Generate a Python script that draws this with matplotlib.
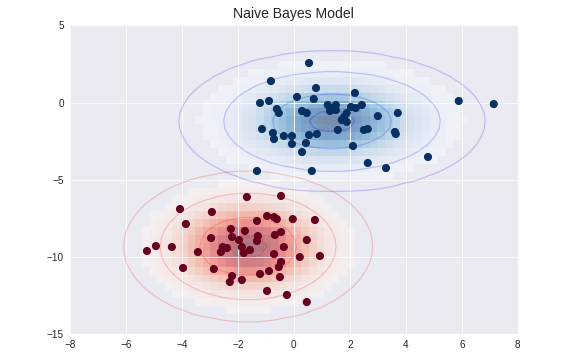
import matplotlib
matplotlib.use("Agg")

import numpy as np
import matplotlib.pyplot as plt

# -----------------------------
# Points
# -----------------------------
# class 0 (red cluster)
red_x = [-4.07, -2.93, -3.86, -2.25, -2.21, -2.96, -1.96, -2.54, -2.39, -2.61,
         -1.86, -1.79, -1.57, -5.25, -4.93, -4.36, -3.43, -3.96, -2.86, -2.21,
         -2.29, -1.86, -1.68, -0.46, -0.96, -0.71, -0.61, -1.32, -0.04, 0.75,
         -1.75, -1.29, -1.32, -0.68, -0.46, -0.36, -0.71, 0.46, 0.21, 0.93,
         -0.46, -0.54, -0.89, -1.21, -0.50, -0.96, -0.25, 0.46]
red_y = [-6.91, -7.10, -7.88, -8.20, -8.72, -8.79, -8.92, -9.37, -9.44, -9.70,
         -9.37, -9.76, -9.57, -9.63, -9.31, -9.37, -9.70, -10.73, -10.80, -11.25,
         -11.64, -11.51, -6.13, -6.06, -7.36, -7.43, -7.56, -7.68, -7.56, -7.62,
         -8.33, -8.66, -8.98, -8.59, -8.40, -9.37, -9.83, -8.92, -10.02, -9.95,
         -10.34, -10.67, -10.93, -11.12, -11.32, -12.22, -12.48, -12.94]

# class 1 (blue cluster)
blue_x = [0.54, -0.82, 0.79, 0.11, 0.71, -1.21, -0.89, -0.61, -0.54, 0.29,
          0.46, 1.21, 1.50, 1.29, 1.50, -1.14, -0.75, -0.71, -0.36, -0.07,
          -0.07, 0.54, 0.82, 0.43, 0.29, -1.32, 0.64, 2.18, 2.04, 2.21,
          2.43, 1.89, 1.71, 1.89, 3.00, 3.71, 1.57, 2.50, 2.64, 3.61,
          3.64, 2.11, 2.64, 3.29, 4.79, 5.89, 7.14, 1.79, 1.39]
blue_y = [2.56, 1.39, 0.94, 0.36, 0.23, -0.03, 0.10, -0.42, -0.68, -0.55,
          -0.68, -0.16, -0.16, -0.55, -0.49, -1.72, -1.98, -2.37, -2.17, -2.17,
          -2.69, -2.11, -2.04, -2.63, -3.21, -4.44, -4.44, 0.62, -0.29, -0.36,
          -0.16, -0.68, -1.13, -1.26, -0.88, -0.68, -1.78, -1.78, -1.72, -1.91,
          -2.04, -2.82, -3.92, -4.25, -3.53, 0.10, -0.10, -0.94, -0.36]

levels = [0.01, 0.1, 0.5, 0.9]
xlim = (-8, 8)
ylim = (-15, 5)

# -----------------------------
# Style (old seaborn darkgrid look)
# -----------------------------
plt.rcParams["font.family"] = ["Liberation Sans", "DejaVu Sans"]
plt.rcParams["axes.unicode_minus"] = True

fig = plt.figure(figsize=(8, 361 / 72), dpi=72)
ax = fig.add_axes([0.1215, 0.0753, 0.7775, 0.8543])
ax.set_facecolor("#EAEAF2")
for s in ax.spines.values():
    s.set_visible(False)
ax.grid(True, color="white", linewidth=1, alpha=0.85)
ax.set_axisbelow(True)
ax.tick_params(length=0, labelsize=10, labelcolor="#262626", pad=6)

X = np.column_stack([red_x + blue_x, red_y + blue_y])
y = np.array([0] * len(red_x) + [1] * len(blue_x))

ax.scatter(X[:, 0], X[:, 1], c=y, s=50, cmap="RdBu", zorder=3,
           edgecolors="face", linewidths=1)

# -----------------------------
# Gaussian naive Bayes density per class
# -----------------------------
xg = np.linspace(xlim[0], xlim[1], 60)
yg = np.linspace(ylim[0], ylim[1], 40)
xx, yy = np.meshgrid(xg, yg)
Xgrid = np.vstack([xx.ravel(), yy.ravel()]).T

for label, color in enumerate(["red", "blue"]):
    mask = (y == label)
    mu, std = X[mask].mean(0), X[mask].std(0)
    P = np.exp(-0.5 * (Xgrid - mu) ** 2 / std ** 2).prod(1)
    Pm = np.ma.masked_array(P, P < 0.03)
    # shading sits under the white grid, as in the reference
    ax.pcolormesh(xg, yg, Pm.reshape(xx.shape), shading="nearest", alpha=0.5,
                  cmap=color.title() + "s", edgecolors="none", antialiased=False,
                  zorder=0.3)
    ax.contour(xx, yy, P.reshape(xx.shape), levels=levels, colors=color,
               alpha=0.2, linewidths=1.2, zorder=2)

ax.set_xlim(xlim)
ax.set_ylim(ylim)
ax.set_xticks(np.arange(-8, 9, 2))
ax.set_yticks(np.arange(-15, 6, 5))
ax.set_title("Naive Bayes Model", size=14, color="#262626", pad=7)

fig.savefig("out.png", dpi=72)
plt.close(fig)
